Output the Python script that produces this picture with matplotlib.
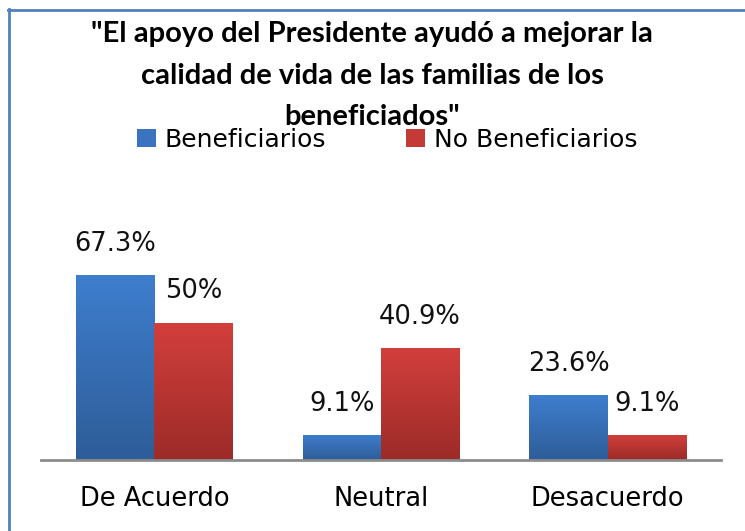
import matplotlib
matplotlib.use("Agg")
import matplotlib.pyplot as plt
import numpy as np
from matplotlib.lines import Line2D
from matplotlib.colors import LinearSegmentedColormap

categories = ["De Acuerdo", "Neutral", "Desacuerdo"]
beneficiarios = [67.3, 9.1, 23.6]
no_beneficiarios = [50.0, 40.9, 9.1]
series_names = ["Beneficiarios", "No Beneficiarios"]
title_lines = ['"El apoyo del Presidente ayudó a mejorar la',
               'calidad de vida de las familias de los',
               'beneficiados"']

W, H = 745, 531
fig = plt.figure(figsize=(W / 100, H / 100), dpi=100)
ax = fig.add_axes([41 / W, (H - 460) / H, 680 / W, 220 / H])

x = np.arange(len(categories))
bw = 0.345
b1 = ax.bar(x - bw / 2, beneficiarios, bw, color="#3a74c0", zorder=2)
b2 = ax.bar(x + bw / 2, no_beneficiarios, bw, color="#c43a37", zorder=2)

cm_blue = LinearSegmentedColormap.from_list("b", ["#2e5d98", "#3e7ece"])
cm_red = LinearSegmentedColormap.from_list("r", ["#9c2b28", "#d23f3c"])
grad = np.linspace(0, 1, 256).reshape(-1, 1)
for bars, cm in ((b1, cm_blue), (b2, cm_red)):
    for p in bars:
        x0, y0 = p.get_x(), p.get_y()
        w, h = p.get_width(), p.get_height()
        im = ax.imshow(grad, cmap=cm, extent=(x0, x0 + w, y0, y0 + h),
                       origin="lower", aspect="auto", zorder=3)
        im.set_clip_path(p)

for bars, vals in ((b1, beneficiarios), (b2, no_beneficiarios)):
    for p, v in zip(bars, vals):
        lab = f"{v:g}%"
        ax.annotate(lab, (p.get_x() + p.get_width() / 2, p.get_height()),
                    xytext=(0, 31), textcoords="offset pixels",
                    ha="center", va="center", fontsize=18.5, color="#111111",
                    annotation_clip=False)

ax.set_xlim(-0.5, 2.5)
ax.set_ylim(0, 80)
ax.set_xticks(x)
ax.set_xticklabels(categories, fontsize=18.5)
ax.tick_params(axis="x", length=0, pad=19)
ax.set_yticks([])
for s in ("top", "right", "left"):
    ax.spines[s].set_visible(False)
ax.spines["bottom"].set_color("#8c8c8c")
ax.spines["bottom"].set_linewidth(2)
ax.spines["bottom"].set_zorder(5)

baselines = [42, 84, 125]
for line, yb in zip(title_lines, baselines):
    fig.text(372 / W, 1 - yb / H, line, ha="center", va="baseline", fontsize=21,
             fontweight="bold", family=["Lato", "DejaVu Sans"])

# legend
leg = fig.legend([b1, b2], series_names, loc="center", bbox_to_anchor=(387 / W, 1 - 140 / H),
                 ncol=2, frameon=False, fontsize=18, handlelength=0.76, handleheight=0.72,
                 columnspacing=3.2, handletextpad=0.34, borderpad=0, borderaxespad=0)

# border
bc = "#4f81bd"
fig.add_artist(Line2D([8.5 / W, 8.5 / W], [0, 1 - 9 / H], color=bc, lw=2, transform=fig.transFigure))
fig.add_artist(Line2D([8 / W, 1], [1 - 9.5 / H, 1 - 9.5 / H], color=bc, lw=2, transform=fig.transFigure))

fig.savefig("out.png", dpi=100)
